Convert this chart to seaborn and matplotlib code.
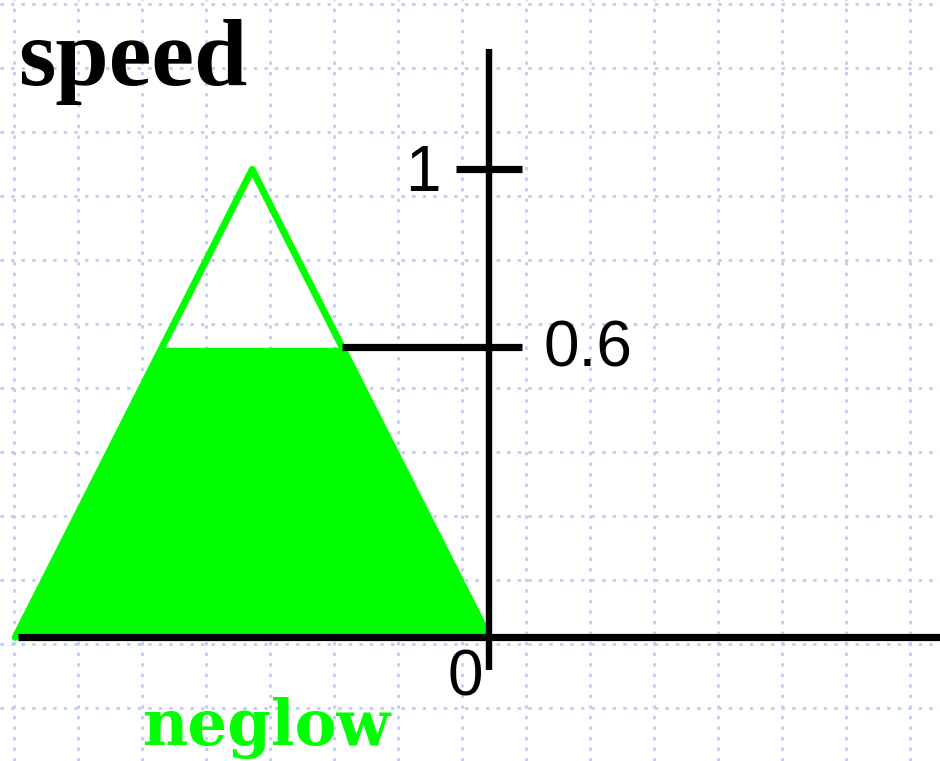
import numpy as np
import matplotlib
matplotlib.use('Agg')
import matplotlib.pyplot as plt
import seaborn as sns

# Membership function "neglow" (triangle) of the variable "speed"
tri_x = [-1.0, -0.5, 0.0]
tri_y = [0.0, 1.0, 0.0]
clip_level = 0.62          # degree of activation (drawn as 0.6)
tick_values = [0.0, clip_level, 1.0]
tick_labels = ['0', '0.6', '1']
var_name = 'speed'
set_name = 'neglow'

sns.set_theme(style='white')

fig = plt.figure(figsize=(9.4, 7.61), dpi=100)
ax = fig.add_axes([0, 0, 1, 1])
ax.set_facecolor('white')

# dotted background grid
grid_x = -1.002 + 0.13502 * np.arange(0, 15)
grid_y = 1.3536 - 0.13675 * np.arange(0, 12)
ax.set_xticks(grid_x)
ax.set_yticks(grid_y)
ax.grid(True, color='#bccdfa', linestyle=(0, (1.2, 2.6)), linewidth=2)
ax.tick_params(length=0, labelbottom=False, labelleft=False)
for s in ax.spines.values():
    s.set_visible(False)
ax.set_axisbelow(True)

# clipped fill
xs = np.linspace(tri_x[0], tri_x[-1], 400)
ys = np.minimum(np.interp(xs, tri_x, tri_y), clip_level)
ax.fill_between(xs, 0, ys, color='#00ff00', linewidth=0, zorder=2)

# triangle outline
sns.lineplot(x=tri_x, y=tri_y, sort=False, color='#00ff00', linewidth=5,
             ax=ax, zorder=3, legend=False)

# axes
ax.plot([0, 0], [-0.069, 1.257], color='black', lw=4.6, solid_capstyle='butt', zorder=4)
ax.plot([-0.994, 0.96], [0, 0], color='black', lw=5.2, solid_capstyle='butt', zorder=4)

# tick at 1 and cut line at the activation level
ax.plot([-0.07, 0.07], [1, 1], color='black', lw=5.2, solid_capstyle='butt', zorder=4)
x_cut = tri_x[1] + (tri_x[2] - tri_x[1]) * (1 - clip_level)
ax.plot([x_cut, 0.07], [clip_level, clip_level], color='black', lw=5.2,
        solid_capstyle='butt', zorder=4)

lab_font = dict(family='Liberation Sans', fontsize=46, color='black')
ax.text(-0.103, tick_values[2] - 0.046, tick_labels[2], ha='right', va='baseline', **lab_font)
ax.text(0.114, tick_values[1] - 0.042, tick_labels[1], ha='left', va='baseline', **lab_font)
ax.text(-0.05, tick_values[0] - 0.125, tick_labels[0], ha='center', va='baseline', **lab_font)

ax.text(0.019, 0.888, var_name, transform=ax.transAxes, ha='left', va='baseline',
        family='Liberation Serif', fontweight='bold', fontsize=69, color='black')
ax.text(0.284, 0.021, set_name, transform=ax.transAxes, ha='center', va='baseline',
        family='DejaVu Serif', fontweight='bold', fontsize=45, color='#00ff00')

ax.set_xlim(-1.032, 0.951)
ax.set_ylim(-0.264, 1.362)

fig.savefig('out.png', dpi=100)
